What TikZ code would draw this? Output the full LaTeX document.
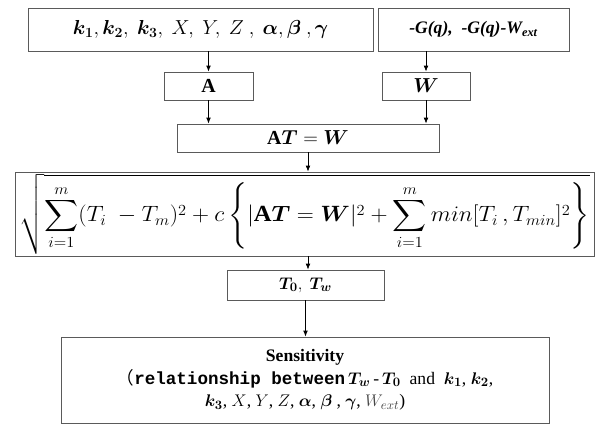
\documentclass[tikz,border=0pt]{standalone}
\usepackage{amsmath,bm}
\usepackage{fontspec}
\setmainfont{Liberation Serif}
\setmonofont{Liberation Mono}
\newfontfamily\cjk{Noto Sans CJK SC}
\definecolor{boxgray}{RGB}{90,90,90}
\definecolor{txtgray}{RGB}{70,70,70}
\usetikzlibrary{arrows.meta,positioning}

\begin{document}
\begin{tikzpicture}[x=0.03cm,y=-0.03cm,
  blk/.style={draw=boxgray,line width=0.8pt,inner sep=0pt,align=center,fill=white},
  arr/.style={-{Latex[length=5pt,width=4pt]},line width=0.6pt}]
  \useasboundingbox (0,0) rectangle (595,425);
  \node[blk,minimum width=10.35cm,minimum height=1.29cm,font=\fontsize{17}{20}\selectfont] (par) at (200.5,29.5)
    {$\bm{k_1},\bm{k_2},\ \bm{k_3},\ X,\ Y,\ Z\ ,\ \bm{\alpha},\bm{\beta}\ ,\bm{\gamma}$};
  \node[blk,minimum width=5.73cm,minimum height=1.29cm,font=\fontsize{15}{18}\selectfont] (grav) at (473.5,29.5)
    {\textbf{\textit{-G(q),\ \ -G(q)-W\textsubscript{ext}}}};
  \node[blk,minimum width=2.67cm,minimum height=0.84cm,font=\fontsize{17}{20}\selectfont] (A) at (208.5,86) {$\mathbf{A}$};
  \node[blk,minimum width=2.64cm,minimum height=0.84cm,font=\fontsize{17}{20}\selectfont] (W) at (426,86) {$\bm{W}$};
  \node[blk,minimum width=7.86cm,minimum height=0.84cm,font=\fontsize{17}{20}\selectfont] (eq) at (308,138)
    {$\mathbf{A}\bm{T}=\bm{W}$};
  \node[blk,minimum width=17.37cm,minimum height=2.52cm,font=\fontsize{18}{22}\selectfont] (obj) at (304.5,214)
    {\resizebox*{17.1cm}{2.42cm}{$\displaystyle\sqrt{\sum_{i=1}^{m}(T_i\ -T_m)^2+c\left\{|\mathbf{A}\bm{T}=\bm{W}|^2+\sum_{i=1}^{m}min[T_i\,,T_{min}]^2\right\}}$}};
  \node[blk,minimum width=4.71cm,minimum height=0.9cm,font=\fontsize{15}{18}\selectfont] (sol) at (305.5,285)
    {$\bm{T_0},\ \bm{T_w}$};
  \node[blk,minimum width=14.64cm,minimum height=2.58cm,font=\fontsize{15}{19}\selectfont] (sens) at (305,380)
    {\textbf{Sensitivity}\\
     {\cjk （}\texttt{\textbf{relationship between}}\,$\bm{T_w}$\,-\,$\bm{T_0}$\ \ and\ \ $\bm{k_1}$,\ $\bm{k_2}$,\\
     $\bm{k_3}$,\ $X$,\ $Y$,\ $Z$,\ $\bm{\alpha}$,\ $\bm{\beta}$\ ,\ $\bm{\gamma}$,\ {\color{txtgray}$W_{ext}$})};
  \draw[arr] (par.south -| A) -- (A);
  \draw[arr] (grav.south -| W) -- (W);
  \draw[arr] (A) -- (A |- eq.north);
  \draw[arr] (W) -- (W |- eq.north);
  \draw[arr] (eq) -- (eq |- obj.north);
  \draw[arr] (obj.south -| eq) -- (eq |- sol.north);
  \draw[arr] (sol) -- (sol |- sens.north);
\end{tikzpicture}
\end{document}
